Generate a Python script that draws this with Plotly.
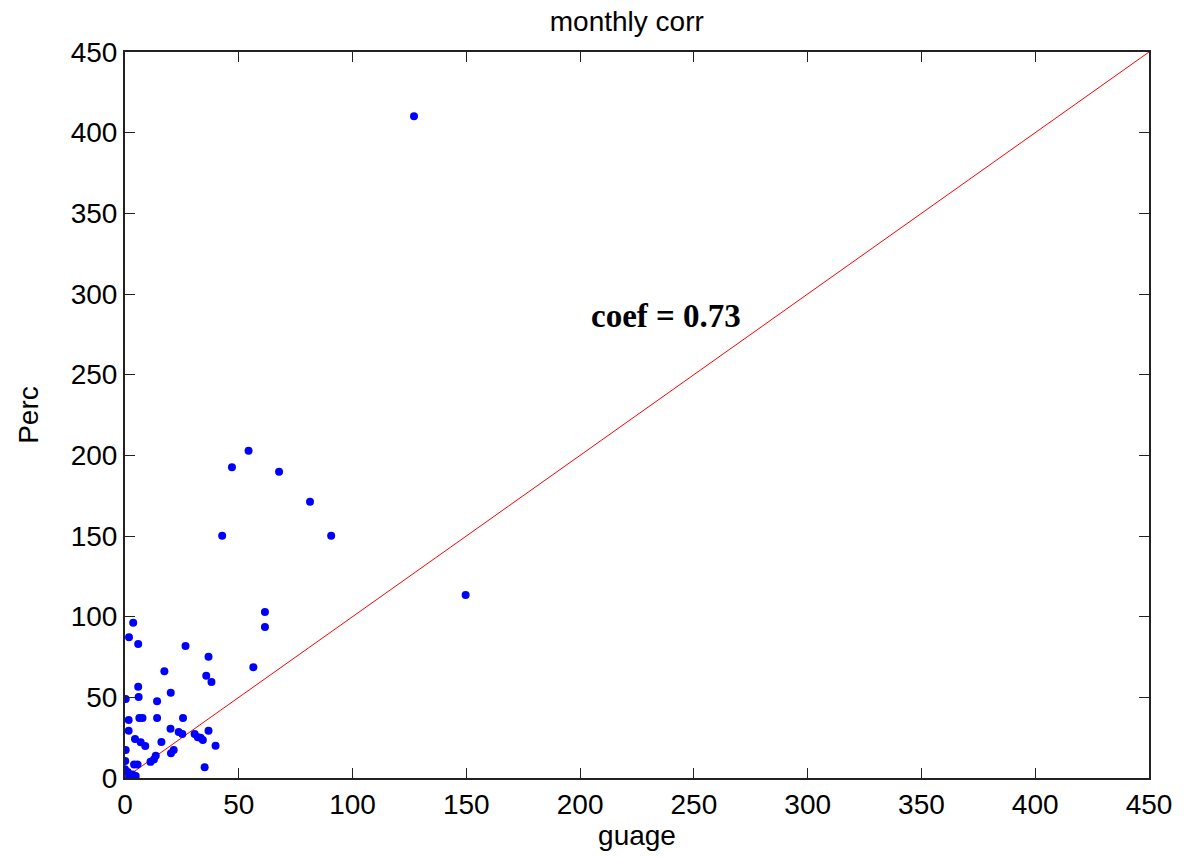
import plotly.graph_objects as go

gauge = [61.5, 61.5, 3.6, 1.75, 5.8, 26.6, 36.7, 56.4, 17.3, 35.7, 38.0, 5.8, 20.1, 6.0, 0.3,
         14.1, 1.6, 6.3, 7.7, 14.1, 25.5, 1.6, 20.0, 23.6, 25.2, 30.6, 32.0, 33.2, 36.7, 34.2,
         4.4, 6.9, 8.9, 16.0, 39.8, 21.4, 20.2, 0.3, 13.5, 12.7, 11.2, 35.0,
         0.1, 0.0, 1.2, 4.0, 5.5, 3.3, 4.7, 1.8,
         54.3, 47.0, 67.7, 81.3, 42.7, 90.6, 149.7, 127.0]
perc = [102.9, 93.6, 96.3, 87.2, 83.1, 81.8, 75.2, 68.6, 66.1, 63.4, 59.5, 56.6, 52.9, 50.2, 49.0,
        47.5, 36.0, 37.2, 37.2, 37.2, 37.2, 29.3, 30.6, 28.5, 27.3, 27.3, 25.3, 25.0, 29.3, 23.5,
        24.2, 22.1, 19.8, 22.3, 20.0, 17.4, 15.3, 17.4, 13.8, 11.5, 10.0, 6.6,
        10.5, 5.4, 3.7, 8.4, 8.4, 2.2, 1.2, 1.0,
        202.9, 192.6, 189.9, 171.3, 150.2, 150.2, 113.5, 410.2]
line_x = [0, 450]
line_y = [0, 450]
ticks = [0, 50, 100, 150, 200, 250, 300, 350, 400, 450]

SANS = "Liberation Sans, Arial"
fig = go.Figure()
fig.add_trace(go.Scatter(x=line_x, y=line_y, mode="lines",
                         line=dict(color="#ff0000", width=1), showlegend=False))
fig.add_trace(go.Scatter(x=gauge, y=perc, mode="markers",
                         marker=dict(color="#0000ff", size=8), showlegend=False))

axis_common = dict(range=[0, 450], tickvals=ticks, ticks="inside", ticklen=10,
                   tickwidth=1, tickcolor="#222", showline=True, linecolor="#222",
                   linewidth=2, mirror="ticks", showgrid=False, zeroline=False,
                   tickfont=dict(family=SANS, size=28, color="#000"))
fig.update_xaxes(**axis_common, title=dict(text="guage", standoff=6,
                 font=dict(family=SANS, size=28, color="#000")))
fig.update_yaxes(**axis_common, title=dict(text="Perc", standoff=24,
                 font=dict(family=SANS, size=28, color="#000")))

fig.add_annotation(x=237.7, y=286.4, text="<b>coef = 0.73</b>", showarrow=False,
                   font=dict(family="Liberation Serif, Times New Roman", size=33, color="#000"))

fig.update_layout(
    width=1184, height=858,
    title=dict(text="monthly corr", xref="paper", x=0.49, xanchor="center",
               y=0.975, yanchor="middle",
               font=dict(family=SANS, size=28, color="#000")),
    margin=dict(l=125, r=29, t=52, b=80),
    plot_bgcolor="white", paper_bgcolor="white",
)
fig.write_html("out.html")
